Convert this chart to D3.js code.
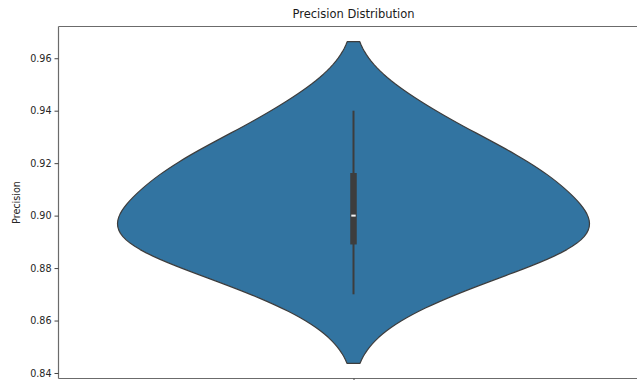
<!DOCTYPE html>
<html><head><meta charset="utf-8">
<script src="https://cdn.jsdelivr.net/npm/d3@7"></script>
<style>
  body { margin: 0; background: #fff; }
  svg { display: block; font-family: "DejaVu Sans", sans-serif; }
</style>
</head><body>
<svg id="chart" width="637" height="380"></svg>
<script>
// Precision scores, one per run
const precision = [0.87, 0.885, 0.888, 0.892, 0.898, 0.902, 0.914, 0.917, 0.924, 0.94];
const yTicks = [0.84, 0.86, 0.88, 0.90, 0.92, 0.94, 0.96];
const yDomain = [0.8379, 0.9721];
const titleText = "Precision Distribution";
const yLabelText = "Precision";

const W = 637, H = 380;
const plot = { left: 58.5, right: 648.5, top: 26.5, bottom: 378.5 };
const violinColor = "#3274a1";
const lineColor = "#3d3d3d";
const spineColor = "#6b6b6b";

const svg = d3.select("#chart");

const x = d3.scaleLinear().domain([-0.5, 0.5]).range([plot.left, plot.right]);
const y = d3.scaleLinear().domain(yDomain).range([plot.bottom, plot.top]);

// Gaussian KDE with Scott's rule bandwidth, support cut at 2 bandwidths
function violinProfile(values, gridSize = 100, cut = 2) {
  const n = values.length;
  const bw = d3.deviation(values) * Math.pow(n, -0.2);
  const lo = d3.min(values) - cut * bw, hi = d3.max(values) + cut * bw;
  const grid = d3.range(gridSize).map(i => lo + (hi - lo) * i / (gridSize - 1));
  const dens = grid.map(t => [t, d3.sum(values, v => Math.exp(-0.5 * ((t - v) / bw) ** 2)) / (n * bw * Math.sqrt(2 * Math.PI))]);
  const maxD = d3.max(dens, d => d[1]);
  return dens.map(d => [d[0], 0.4 * d[1] / maxD]);
}

const profile = violinProfile(precision);
const area = d3.area()
  .y(d => y(d[0]))
  .x0(d => x(-d[1]))
  .x1(d => x(d[1]));

const g = svg.append("g");
g.append("path")
  .attr("d", area(profile))
  .attr("fill", violinColor)
  .attr("stroke", lineColor)
  .attr("stroke-width", 1.2)
  .attr("stroke-linejoin", "round");

// Inner box: whiskers, interquartile bar, median
const sorted = precision.slice().sort(d3.ascending);
const q1 = d3.quantile(sorted, 0.25), med = d3.quantile(sorted, 0.5), q3 = d3.quantile(sorted, 0.75);
const iqr = q3 - q1;
const wLo = d3.min(sorted.filter(v => v >= q1 - 1.5 * iqr));
const wHi = d3.max(sorted.filter(v => v <= q3 + 1.5 * iqr));
const cx = x(0);
g.append("line")
  .attr("x1", cx).attr("x2", cx)
  .attr("y1", y(wLo)).attr("y2", y(wHi))
  .attr("stroke", lineColor).attr("stroke-width", 2);
g.append("line")
  .attr("x1", cx).attr("x2", cx)
  .attr("y1", y(q1)).attr("y2", y(q3))
  .attr("stroke", lineColor).attr("stroke-width", 6.5);
g.append("rect")
  .attr("x", cx - 2.2).attr("y", y(med) - 1)
  .attr("width", 4.4).attr("height", 2)
  .attr("fill", "#f2f2f2");

// Axes frame
const spines = svg.append("g").attr("stroke", spineColor).attr("stroke-width", 1.2).attr("fill", "none");
spines.append("line").attr("x1", plot.left).attr("x2", plot.left).attr("y1", plot.top).attr("y2", plot.bottom);
spines.append("line").attr("x1", plot.left).attr("x2", plot.right).attr("y1", plot.top).attr("y2", plot.top);
spines.append("line").attr("x1", plot.left).attr("x2", plot.right).attr("y1", plot.bottom).attr("y2", plot.bottom);
spines.append("line").attr("x1", plot.right).attr("x2", plot.right).attr("y1", plot.top).attr("y2", plot.bottom);

// Y axis
const yAxis = d3.axisLeft(y).tickValues(yTicks).tickFormat(d3.format(".2f")).tickSizeOuter(0).tickSize(4).tickPadding(3);
const ya = svg.append("g").attr("transform", `translate(${plot.left},0)`).call(yAxis);
ya.select(".domain").remove();
ya.selectAll(".tick line").attr("stroke", "#444").attr("stroke-width", 1);
ya.selectAll(".tick text").attr("font-size", 9.6).attr("fill", "#262626").attr("font-family", "DejaVu Sans, sans-serif");

// X axis: single unlabeled category
const xAxis = d3.axisBottom(x).tickValues([0]).tickFormat(() => "").tickSizeOuter(0).tickSize(4);
const xa = svg.append("g").attr("transform", `translate(0,${plot.bottom})`).call(xAxis);
xa.select(".domain").remove();
xa.selectAll(".tick line").attr("stroke", "#444").attr("stroke-width", 1);

// Title and axis label
svg.append("text")
  .attr("x", (plot.left + plot.right) / 2).attr("y", 18)
  .attr("text-anchor", "middle")
  .attr("font-size", 11.5).attr("fill", "#1a1a1a")
  .text(titleText);
svg.append("text")
  .attr("transform", `translate(20,${(plot.top + plot.bottom) / 2}) rotate(-90)`)
  .attr("text-anchor", "middle")
  .attr("font-size", 9.6).attr("fill", "#262626")
  .text(yLabelText);
</script>
</body></html>
